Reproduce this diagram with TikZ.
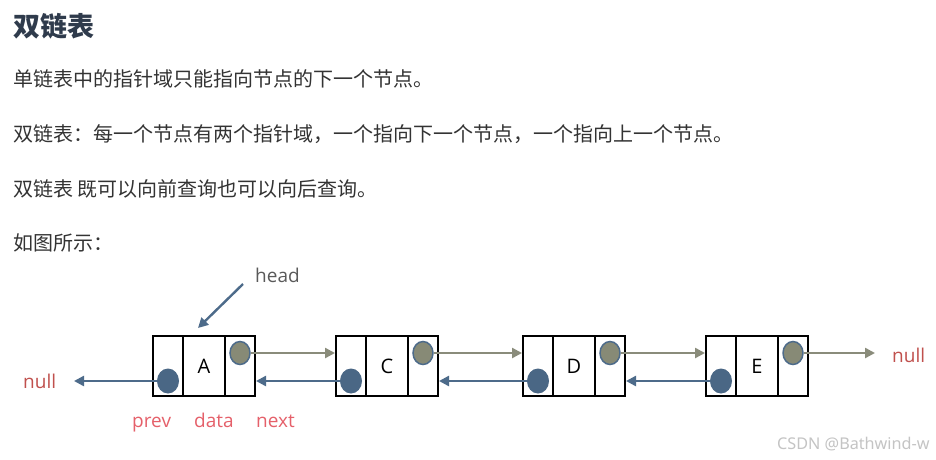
\documentclass[tikz,border=0pt]{standalone}
\usepackage{fontspec}
\newfontfamily\cjk{Noto Sans CJK SC}
\newfontfamily\lat{Open Sans}
\newfontfamily\wmfont{Noto Sans}
\usetikzlibrary{arrows.meta,shapes.geometric}
\definecolor{titlecol}{HTML}{2F3B4C}
\definecolor{bodycol}{HTML}{333333}
\definecolor{bluecol}{HTML}{4D6B8A}
\definecolor{bluefill}{HTML}{4A6785}
\definecolor{graycol}{HTML}{8A8C7B}
\definecolor{grayfill}{HTML}{878A76}
\definecolor{nullcol}{HTML}{C0504D}
\definecolor{labcol}{HTML}{E5606A}
\definecolor{headcol}{HTML}{5A5A5A}
\definecolor{wmcol}{HTML}{C4C4C4}
\tikzset{
  titletext/.style={anchor=base west, inner sep=0pt, text=titlecol, font=\cjk\bfseries\fontsize{27}{32}\selectfont},
  bodytext/.style={anchor=base west, inner sep=0pt, text=bodycol, font=\cjk\fontsize{20}{24}\selectfont},
  cellbox/.style={draw=black, line width=2pt, inner sep=0pt, minimum height=60pt, font=\lat\fontsize{20}{24}\selectfont},
  prevdot/.style={ellipse, fill=bluefill, inner sep=0pt, minimum width=22pt, minimum height=25pt},
  nextdot/.style={ellipse, fill=grayfill, draw=bluecol, line width=1.5pt, inner sep=0pt, minimum width=20pt, minimum height=23pt},
  nextarr/.style={draw=graycol, line width=2.4pt, -{Triangle[length=10pt,width=10pt]}},
  prevarr/.style={draw=bluecol, line width=2.4pt, -{Triangle[length=10pt,width=10pt]}},
  nulltxt/.style={anchor=base west, inner sep=0pt, text=nullcol, font=\lat\fontsize{19}{24}\selectfont},
  labtxt/.style={anchor=base west, inner sep=0pt, text=labcol, font=\lat\fontsize{19}{24}\selectfont},
  headtxt/.style={anchor=base west, inner sep=0pt, text=headcol, font=\lat\fontsize{19}{24}\selectfont},
  wmtxt/.style={anchor=base west, inner sep=0pt, text=wmcol, font=\wmfont\fontsize{16.2}{20}\selectfont}
}
\begin{document}
\begin{tikzpicture}[x=1pt,y=-1pt]
\useasboundingbox (0,0) rectangle (936,459);
\fill[white] (0,0) rectangle (936,459);
% text
\node[titletext] (title) at (13,36) {双链表};
\node[bodytext] (l1) at (13,86) {单链表中的指针域只能指向节点的下一个节点。};
\node[bodytext] (l2) at (13,141) {双链表：每一个节点有两个指针域，一个指向下一个节点，一个指向上一个节点。};
\node[bodytext] (l3) at (13,196) {双链表 既可以向前查询也可以向后查询。};
\node[bodytext] (l4) at (13,250) {如图所示：};
% list nodes
\foreach \n/\L in {A/153, C/336, D/523, E/706} {
  \node[cellbox, minimum width=30pt] (\n-p) at (\L+15,366) {};
  \node[cellbox, minimum width=42pt] (\n-d) at (\L+51,366) {\n};
  \node[cellbox, minimum width=30pt] (\n-n) at (\L+87,366) {};
  \node[prevdot] (\n-pc) at (\L+15,381) {};
  \node[nextdot] (\n-nc) at (\L+87,353) {};
}
% next pointers
\draw[nextarr] (A-nc.east) -- (A-nc.east -| C-p.west);
\draw[nextarr] (C-nc.east) -- (C-nc.east -| D-p.west);
\draw[nextarr] (D-nc.east) -- (D-nc.east -| E-p.west);
% prev pointers
\draw[prevarr] (C-pc.west) -- (C-pc.west -| A-n.east);
\draw[prevarr] (D-pc.west) -- (D-pc.west -| C-n.east);
\draw[prevarr] (E-pc.west) -- (E-pc.west -| D-n.east);
% nulls
\node[nulltxt] (nullL) at (23,388) {null};
\coordinate (nlTip) at (74,381);
\draw[prevarr] (A-pc.west) -- (nlTip);
\node[nulltxt] (nullR) at (892,362) {null};
\coordinate (nrTip) at (875,353);
\draw[nextarr] (E-nc.east) -- (nrTip);
% head
\node[headtxt] (head) at (255,282) {head};
\coordinate (hS) at (243,284);
\coordinate (hT) at (198,328);
\draw[prevarr] (hS) -- (hT);
% labels
\node[labtxt] (lprev) at (132,427) {prev};
\node[labtxt] (ldata) at (194,427) {data};
\node[labtxt] (lnext) at (256,427) {next};
% watermark
\node[wmtxt] (wm) at (777,449) {CSDN @Bathwind-w};
\end{tikzpicture}
\end{document}
